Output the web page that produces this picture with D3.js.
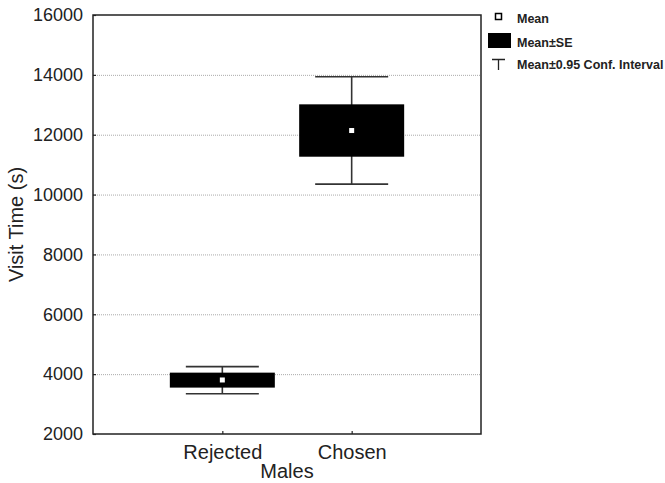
<!DOCTYPE html>
<html>
<head>
<meta charset="utf-8">
<script src="https://cdn.jsdelivr.net/npm/d3@7"></script>
<style>
  body { margin: 0; background: #fff; }
  svg { display: block; font-family: 'Liberation Sans', Arial, sans-serif; }
</style>
</head>
<body>
<svg id="chart" width="665" height="483"></svg>
<script>
// values
var categories = ['Rejected', 'Chosen']
var means = [3805, 12140]
var seLow = [3550, 11265]
var seHigh = [4050, 13015]
var ciLow = [3345, 10350]
var ciHigh = [4250, 13935]
var yTicks = [2000, 4000, 6000, 8000, 10000, 12000, 14000, 16000]
var legendLabels = ['Mean', 'Mean\u00B1SE', 'Mean\u00B10.95 Conf. Interval']

var svg = d3.select('#chart'),
  margin = { top: 15, right: 184, bottom: 49, left: 93 },
  width = +svg.attr('width') - margin.left - margin.right,
  height = +svg.attr('height') - margin.top - margin.bottom

var x = d3.scalePoint().domain(categories).range([0, width]).padding(1),
  y = d3.scaleLinear().domain([2000, 16000]).range([height, 0])

var boxW = 105,
  capW = 73

var g = svg
  .append('g')
  .attr('transform', 'translate(' + margin.left + ',' + margin.top + ')')

// grid
g.append('g')
  .selectAll('line')
  .data(yTicks.slice(1, -1))
  .enter()
  .append('line')
  .attr('x1', 0)
  .attr('x2', width)
  .attr('y1', function (d) { return y(d) + 0.5 })
  .attr('y2', function (d) { return y(d) + 0.5 })
  .attr('stroke', '#aaa')
  .attr('stroke-width', 1)
  .attr('stroke-dasharray', '1,1')

// axes (ticks point inward)
var yAxis = g.append('g')
  .call(d3.axisLeft(y).tickValues(yTicks).tickSize(-3).tickPadding(10).tickFormat(d3.format('d')))
yAxis.select('.domain').remove()
yAxis.selectAll('line').attr('stroke', '#222').attr('stroke-width', 1.2)
yAxis.selectAll('text').attr('font-size', 18).attr('fill', '#222').attr('font-family', null)

var xAxis = g.append('g')
  .attr('transform', 'translate(0,' + height + ')')
  .call(d3.axisBottom(x).tickSize(-3).tickPadding(10))
xAxis.select('.domain').remove()
xAxis.selectAll('line').attr('stroke', '#222').attr('stroke-width', 1.2)
xAxis.selectAll('text').attr('font-size', 20).attr('fill', '#222').attr('font-family', null).attr('dy', '0.75em')

// whiskers
var whisk = g.append('g').selectAll('g').data(categories).enter().append('g')
whisk.append('line')
  .attr('x1', function (d) { return x(d) })
  .attr('x2', function (d) { return x(d) })
  .attr('y1', function (d, i) { return y(ciLow[i]) })
  .attr('y2', function (d, i) { return y(ciHigh[i]) })
whisk.append('line')
  .attr('x1', function (d) { return x(d) - capW / 2 })
  .attr('x2', function (d) { return x(d) + capW / 2 })
  .attr('y1', function (d, i) { return y(ciHigh[i]) })
  .attr('y2', function (d, i) { return y(ciHigh[i]) })
whisk.append('line')
  .attr('x1', function (d) { return x(d) - capW / 2 })
  .attr('x2', function (d) { return x(d) + capW / 2 })
  .attr('y1', function (d, i) { return y(ciLow[i]) })
  .attr('y2', function (d, i) { return y(ciLow[i]) })
whisk.selectAll('line').attr('stroke', '#333').attr('stroke-width', 1.6)

// SE boxes
g.append('g').selectAll('rect').data(categories).enter().append('rect')
  .attr('x', function (d) { return x(d) - boxW / 2 })
  .attr('width', boxW)
  .attr('y', function (d, i) { return y(seHigh[i]) })
  .attr('height', function (d, i) { return y(seLow[i]) - y(seHigh[i]) })
  .attr('fill', '#000')

// mean markers
g.append('g').selectAll('rect').data(categories).enter().append('rect')
  .attr('x', function (d) { return x(d) - 2.5 })
  .attr('y', function (d, i) { return y(means[i]) - 2.5 })
  .attr('width', 5)
  .attr('height', 5)
  .attr('fill', '#fff')

// frame
g.append('rect')
  .attr('x', 0).attr('y', 0)
  .attr('width', width).attr('height', height)
  .attr('fill', 'none')
  .attr('stroke', '#222')
  .attr('stroke-width', 1.5)

// titles
svg.append('text')
  .attr('x', margin.left + width / 2)
  .attr('y', 478)
  .attr('text-anchor', 'middle')
  .attr('font-size', 20)
  .attr('fill', '#222')
  .text('Males')

svg.append('text')
  .attr('transform', 'translate(23,' + (margin.top + height / 2) + ') rotate(-90)')
  .attr('text-anchor', 'middle')
  .attr('font-size', 20)
  .attr('fill', '#222')
  .text('Visit Time (s)')

// legend
var lg = svg.append('g').attr('transform', 'translate(488,0)')
lg.append('rect')
  .attr('x', 7.5).attr('y', 13.5).attr('width', 6).attr('height', 6)
  .attr('fill', '#fff').attr('stroke', '#000').attr('stroke-width', 1.5)
lg.append('rect')
  .attr('x', 0).attr('y', 33).attr('width', 23).attr('height', 15)
  .attr('fill', '#000')
lg.append('path')
  .attr('d', 'M4,59.5H17M10.5,59.5V70')
  .attr('fill', 'none').attr('stroke', '#222').attr('stroke-width', 1.3)
lg.selectAll('text.lab').data(legendLabels).enter().append('text')
  .attr('class', 'lab')
  .attr('x', 29)
  .attr('y', function (d, i) { return [23, 47, 69][i] })
  .attr('font-size', 12.5)
  .attr('font-weight', 'bold')
  .attr('fill', '#222')
  .text(function (d) { return d })
</script>
</body>
</html>
